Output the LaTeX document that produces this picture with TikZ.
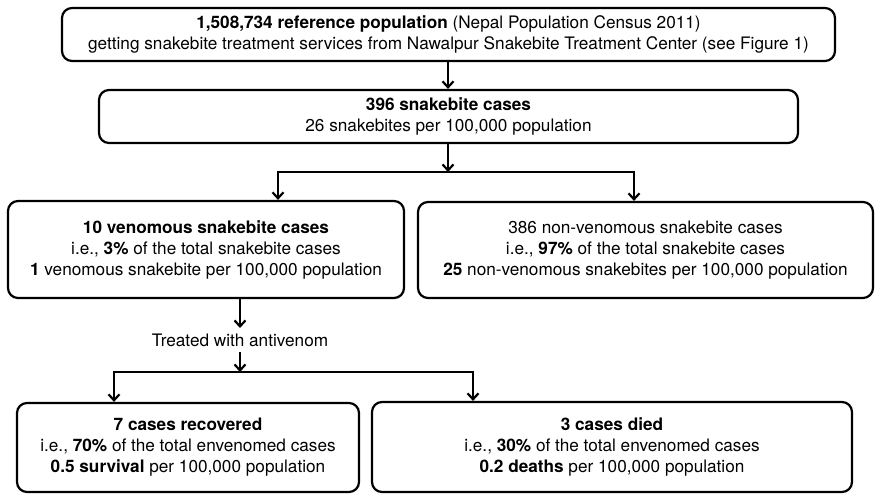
\documentclass[tikz,border=0pt]{standalone}
\usepackage{fontspec}
\setmainfont{TeX Gyre Heros}
\usetikzlibrary{arrows.meta}
\begin{document}
\begin{tikzpicture}[x=1pt,y=-1pt,
  box/.style={draw=black,line width=2.2pt,rounded corners=10pt,align=center,
    inner sep=0pt,font=\fontsize{17.2}{21}\selectfont},
  arr/.style={line width=2.2pt,-{Straight Barb[length=6pt,width=11pt,line width=2.2pt]}}]
\useasboundingbox (0,0) rectangle (883,498);
\node[box,minimum width=773pt,minimum height=53pt] (b1) at (448.5,34.5)
  {\textbf{1,508,734 reference population} (Nepal Population Census 2011)\\
   getting snakebite treatment services from Nawalpur Snakebite Treatment Center (see Figure 1)};
\node[box,minimum width=699pt,minimum height=53pt] (b2) at (448.5,116.5)
  {\textbf{396 snakebite cases}\\ 26 snakebites per 100,000 population};
\node[box,minimum width=396pt,minimum height=97pt] (b3) at (206,249.5)
  {\textbf{10 venomous snakebite cases}\\ i.e., \textbf{3\%} of the total snakebite cases\\
   \textbf{1} venomous snakebite per 100,000 population};
\node[box,minimum width=455pt,minimum height=96pt] (b4) at (645.5,250)
  {386 non-venomous snakebite cases\\ i.e., \textbf{97\%} of the total snakebite cases\\
   \textbf{25} non-venomous snakebites per 100,000 population};
\node[box,minimum width=342pt,minimum height=89pt] (b5) at (188,447.5)
  {\textbf{7 cases recovered}\\ i.e., \textbf{70\%} of the total envenomed cases\\
   \textbf{0.5 survival} per 100,000 population};
\node[box,minimum width=480pt,minimum height=90pt] (b6) at (612,447)
  {\textbf{3 cases died}\\ i.e., \textbf{30\%} of the total envenomed cases\\
   \textbf{0.2 deaths} per 100,000 population};
\node[font=\fontsize{17.2}{21}\selectfont,inner sep=0pt] (lbl) at (240,340) {Treated with antivenom};
% connectors
\coordinate (j1) at (448,172);
\coordinate (j1L) at (278,172);
\coordinate (j1R) at (634,172);
\coordinate (b3o) at (240,298);
\coordinate (t1) at (240,328);
\coordinate (t2) at (240,352);
\coordinate (j2) at (240,372);
\coordinate (j2L) at (114,372);
\coordinate (j2R) at (473,372);
\draw[arr] (b1.south -| j1) -- (b2.north -| j1);
\draw[arr] (b2.south -| j1) -- (j1);
\draw[arr] (j1) -- (j1L) -- (j1L |- b3.north);
\draw[arr] (j1) -- (j1R) -- (j1R |- b4.north);
\draw[arr] (b3o) -- (t1);
\draw[arr] (t2) -- (j2);
\draw[arr] (j2) -- (j2L) -- (j2L |- b5.north);
\draw[arr] (j2) -- (j2R) -- (j2R |- b6.north);
\end{tikzpicture}
\end{document}
